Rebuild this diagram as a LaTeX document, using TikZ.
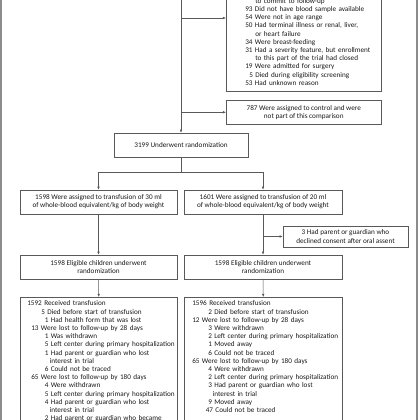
\documentclass[tikz,border=0pt]{standalone}
\usepackage{fontspec}
\setmainfont{Carlito}
\usetikzlibrary{arrows.meta}
\newcommand\lineat[2]{\hspace*{#1pt}\mbox{\strut #2}}
\begin{document}
\begin{tikzpicture}[x=1pt,y=-1pt,
  box/.style={draw=black!65, line width=0.5pt, font=\fontsize{7.2}{8.2}\selectfont, text=black!90, inner ysep=3pt},
  cbox/.style={box, align=center, inner xsep=2pt},
  lbox/.style={box, align=left, inner xsep=0pt},
  conn/.style={draw=black!65, line width=0.5pt},
  arr/.style={conn, -{Latex[length=3.2pt,width=2.6pt]}},
  frame/.style={draw=black!45, line width=1.1pt}]
\useasboundingbox (0,0) rectangle (420,420);
\clip (0,0) rectangle (420,420);

\draw[frame] (1,-10) -- (1,430);
\draw[frame] (417,-10) -- (417,430);

\node[lbox, text width=155pt, anchor=south west] (excl) at (226,91) {%
\lineat{29}{to commit to follow-up}\\
\lineat{19}{93 Did not have blood sample available}\\
\lineat{19}{54 Were not in age range}\\
\lineat{19}{50 Had terminal illness or renal, liver,}\\
\lineat{29}{or heart failure}\\
\lineat{19}{34 Were breast-feeding}\\
\lineat{19}{31 Had a severity feature, but enrollment}\\
\lineat{29}{to this part of the trial had closed}\\
\lineat{19}{19 Were admitted for surgery}\\
\lineat{23}{5 Died during eligibility screening}\\
\lineat{19}{53 Had unknown reason}};

\node[cbox, minimum width=155pt, minimum height=24pt, anchor=north west] (ctrl) at (226,100) {787 Were assigned to control and were\\not part of this comparison};

\node[cbox, minimum width=134pt, minimum height=24pt] (rand) at (181,145) {3199 Underwent randomization};

\node[cbox, minimum width=157pt, minimum height=24pt] (a30) at (98.5,202) {1598 Were assigned to transfusion of 30 ml\\of whole-blood equivalent/kg of body weight};
\node[cbox, minimum width=158pt, minimum height=24pt] (a20) at (263,202) {1601 Were assigned to transfusion of 20 ml\\of whole-blood equivalent/kg of body weight};

\node[cbox, minimum width=125pt, minimum height=21pt] (declined) at (345.5,236.5) {3 Had parent or guardian who\\declined consent after oral assent};

\node[cbox, minimum width=157pt, minimum height=24pt] (e30) at (98.5,267) {1598 Eligible children underwent\\randomization};
\node[cbox, minimum width=158pt, minimum height=24pt] (e20) at (263,267) {1598 Eligible children underwent\\randomization};

\node[lbox, text width=157pt, anchor=north west] (r30) at (20,297) {%
\lineat{7}{1592 Received transfusion}\\
\lineat{21}{5 Died before start of transfusion}\\
\lineat{24.5}{1 Had health form that was lost}\\
\lineat{11}{13 Were lost to follow-up by 28 days}\\
\lineat{24.5}{1 Was withdrawn}\\
\lineat{24.5}{5 Left center during primary hospitalization}\\
\lineat{24.5}{1 Had parent or guardian who lost}\\
\lineat{29.5}{interest in trial}\\
\lineat{24.5}{6 Could not be traced}\\
\lineat{11}{65 Were lost to follow-up by 180 days}\\
\lineat{24.5}{4 Were withdrawn}\\
\lineat{24.5}{5 Left center during primary hospitalization}\\
\lineat{24.5}{4 Had parent or guardian who lost}\\
\lineat{29.5}{interest in trial}\\
\lineat{24.5}{2 Had parent or guardian who became}\rule[-30pt]{0pt}{0pt}};

\node[lbox, text width=158pt, anchor=north west] (r20) at (184,297) {%
\lineat{8}{1596 Received transfusion}\\
\lineat{24}{2 Died before start of transfusion}\\
\lineat{8}{12 Were lost to follow-up by 28 days}\\
\lineat{24}{3 Were withdrawn}\\
\lineat{24}{2 Left center during primary hospitalization}\\
\lineat{24}{1 Moved away}\\
\lineat{24}{6 Could not be traced}\\
\lineat{8}{65 Were lost to follow-up by 180 days}\\
\lineat{24}{4 Were withdrawn}\\
\lineat{24}{2 Left center during primary hospitalization}\\
\lineat{24}{3 Had parent or guardian who lost}\\
\lineat{28.5}{interest in trial}\\
\lineat{24}{9 Moved away}\\
\lineat{21.5}{47 Could not be traced}\rule[-30pt]{0pt}{0pt}};

\coordinate (topin) at (181,-10);
\coordinate (j1) at (181,18);
\coordinate (split) at (181,172);
\draw[arr] (topin) -- (rand.north);
\draw[arr] (j1) -- (j1 -| excl.west);
\draw[arr] (topin |- ctrl.west) -- (ctrl.west);
\draw[conn] (rand.south) -- (split);
\draw[arr] (split) -| (a30.north);
\draw[arr] (split) -| (a20.north);
\draw[arr] (a30.south) -- (e30.north);
\draw[arr] (a20.south) -- (e20.north);
\draw[arr] (a20.south |- declined.west) -- (declined.west);
\draw[arr] (e30.south) -- (r30.north);
\draw[arr] (e20.south) -- (r20.north);
\end{tikzpicture}
\end{document}
